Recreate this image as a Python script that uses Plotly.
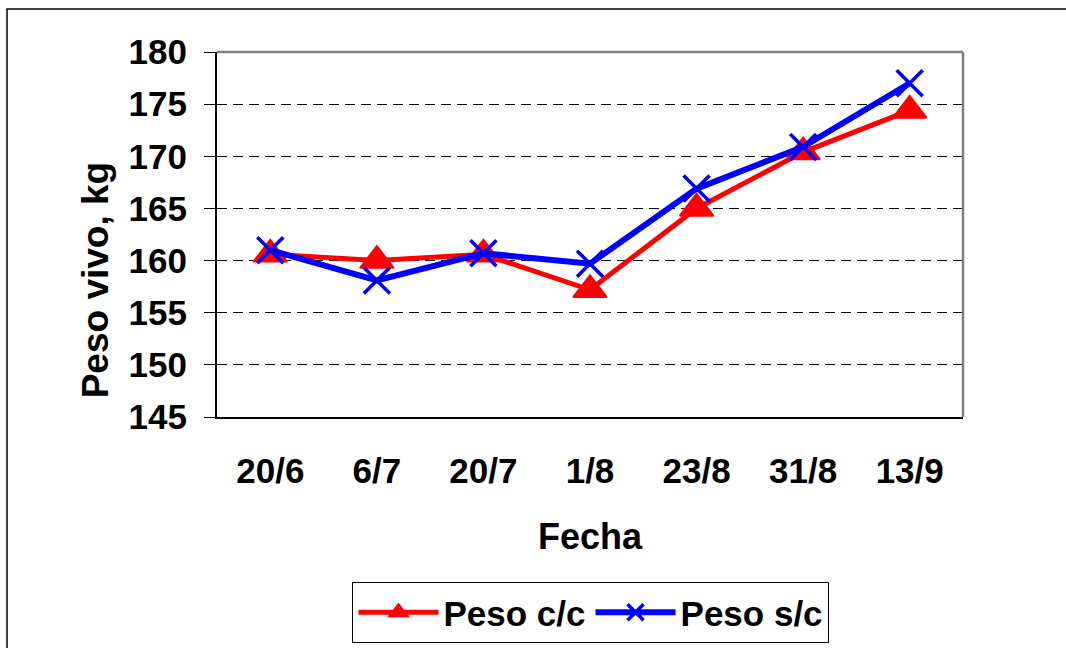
import plotly.graph_objects as go

fechas = ["20/6", "6/7", "20/7", "1/8", "23/8", "31/8", "13/9"]
peso_cc = [160.6, 160.0, 160.6, 157.2, 165.0, 170.4, 174.4]
peso_sc = [161.0, 158.1, 160.7, 159.7, 166.9, 170.9, 177.0]
y_ticks = [145, 150, 155, 160, 165, 170, 175, 180]

FONT = "Liberation Sans, Arial, sans-serif"
idx = list(range(len(fechas)))
bounds = [i - 0.5 for i in range(len(fechas) + 1)]
xr = [-0.5, len(fechas) - 0.5]
yr = [145, 180]

fig = go.Figure()
fig.add_trace(go.Scatter(
    x=idx, y=peso_cc, name="Peso c/c", mode="lines+markers",
    line=dict(color="#FF0000", width=5),
    marker=dict(symbol="triangle-up", size=29, color="#FF0000",
                line=dict(color="#FF0000", width=2)),
))
fig.add_trace(go.Scatter(
    x=idx, y=peso_sc, name="Peso s/c", mode="lines+markers",
    line=dict(color="#0000FF", width=6),
    marker=dict(symbol="x-thin-open", size=26, color="#0000FF",
                line=dict(color="#0000FF", width=3.5)),
))

tickfont = dict(family=FONT, size=35, color="black", weight="bold")

fig.update_layout(
    width=1066, height=648,
    margin=dict(l=217, r=103, t=52, b=231),
    paper_bgcolor="white", plot_bgcolor="white",
    font=dict(family=FONT, color="black"),
    xaxis=dict(
        range=xr, tickmode="array", tickvals=idx, ticktext=fechas,
        ticks="", showgrid=False, zeroline=False, automargin=False,
        showline=True, linecolor="black", linewidth=2,
        tickfont=tickfont, ticklabelstandoff=22,
    ),
    xaxis2=dict(
        overlaying="x", anchor="y", range=xr, tickmode="array", tickvals=bounds,
        ticks="outside", ticklen=11, tickwidth=1, tickcolor="black", automargin=False,
        showticklabels=False, showgrid=False, zeroline=False, showline=False,
    ),
    xaxis3=dict(
        overlaying="x", anchor="y", range=xr, tickmode="array", tickvals=bounds,
        ticks="inside", ticklen=11, tickwidth=1, tickcolor="black", automargin=False,
        showticklabels=False, showgrid=False, zeroline=False, showline=False,
    ),
    yaxis=dict(
        range=yr, tickmode="array", tickvals=y_ticks,
        ticks="outside", ticklen=11, tickwidth=1, tickcolor="black",
        showgrid=True, gridcolor="black", gridwidth=1, griddash="10px,6px",
        zeroline=False, showline=True, linecolor="black", linewidth=2,
        tickfont=tickfont, ticklabelstandoff=10, automargin=False,
    ),
    yaxis2=dict(
        overlaying="y", anchor="x", range=yr, tickmode="array", tickvals=y_ticks,
        ticks="inside", ticklen=11, tickwidth=1, tickcolor="black", automargin=False,
        showticklabels=False, showgrid=False, zeroline=False, showline=False,
    ),
    legend=dict(
        orientation="h", xref="container", yref="container",
        x=0.5544, xanchor="center", y=0.1019, yanchor="top",
        bordercolor="black", borderwidth=1, bgcolor="white",
        font=dict(family=FONT, size=35, color="black", weight="bold"),
        itemwidth=80, tracegroupgap=0,
    ),
    showlegend=True,
)

# plot frame (gray top/right) and outer chart border
fig.add_shape(type="line", xref="paper", yref="paper", x0=0, x1=1, y0=1, y1=1,
              line=dict(color="#808080", width=2.5))
fig.add_shape(type="line", xref="paper", yref="paper", x0=1, x1=1, y0=0, y1=1,
              line=dict(color="#808080", width=2.5))
fig.add_shape(type="rect", xref="paper", yref="paper",
              x0=-0.2815, x1=1.15, y0=-0.7, y1=1.118,
              line=dict(color="black", width=1.5))

fig.add_annotation(text="Peso vivo, kg", xref="paper", yref="paper",
                   x=-0.1635, y=0.3745, xanchor="center", yanchor="middle",
                   textangle=-90, showarrow=False,
                   font=dict(family=FONT, size=37, color="black", weight="bold"))
fig.add_annotation(text="Fecha", xref="paper", yref="paper",
                   x=0.5013, y=-0.327, xanchor="center", yanchor="middle",
                   showarrow=False,
                   font=dict(family=FONT, size=36, color="black", weight="bold"))

fig.write_html(
    "out.html",
    config={"displayModeBar": False},
    post_script="document.body.style.margin='0';document.body.style.overflow='hidden';",
)
